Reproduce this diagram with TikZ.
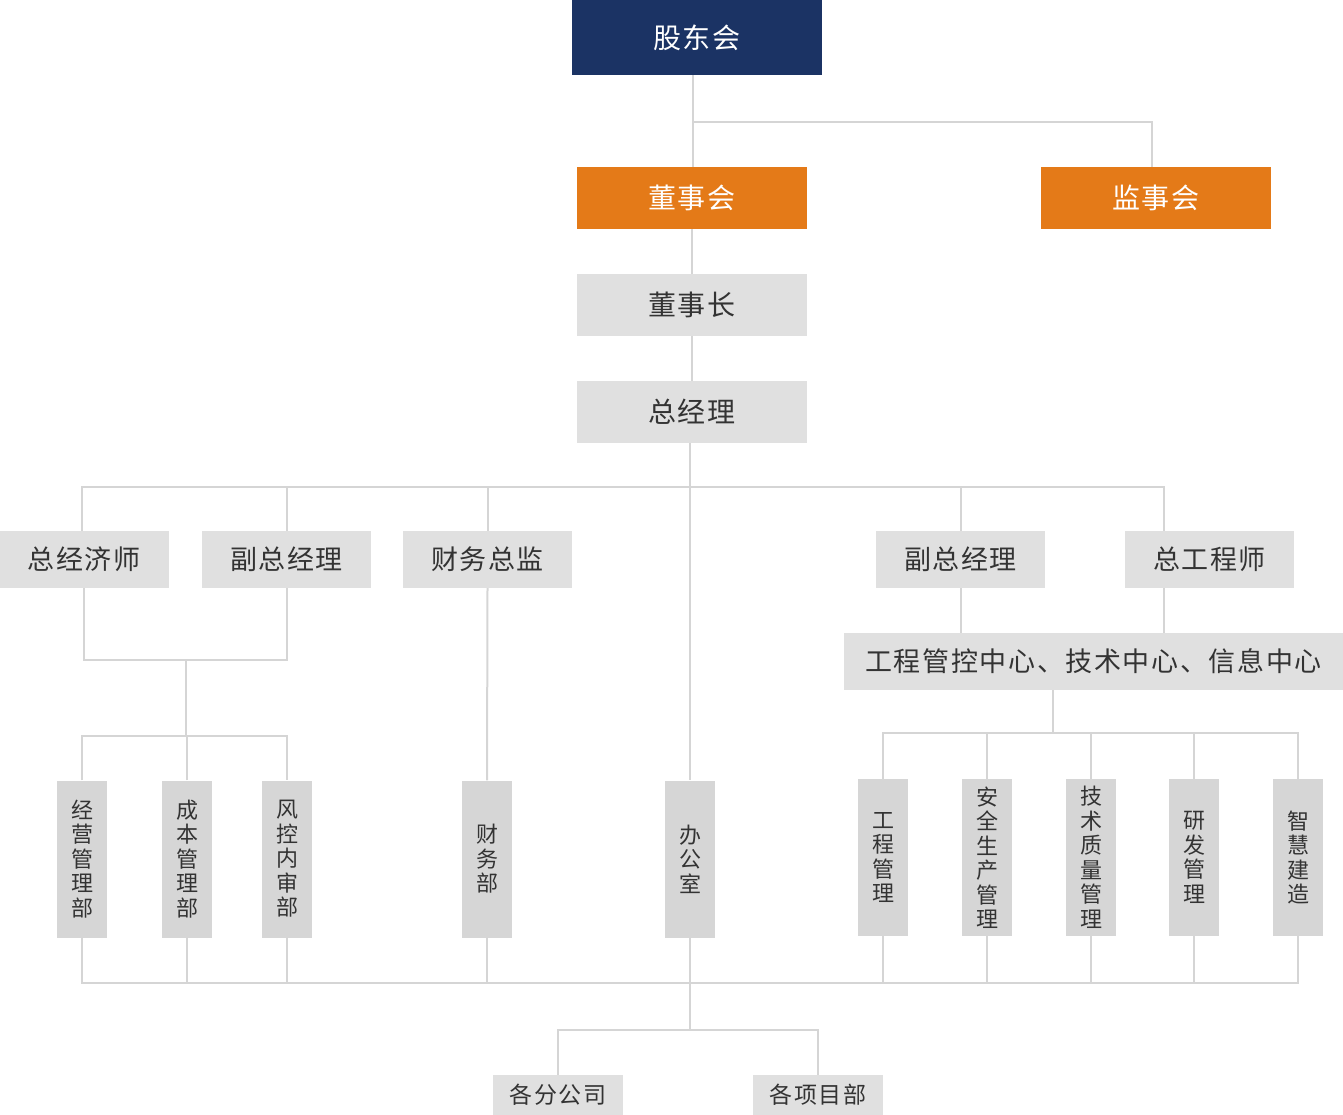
\documentclass[tikz,border=0pt]{standalone}
\usepackage{fontspec}
\newfontfamily\cjk[LetterSpace=6]{Noto Sans CJK SC}
\newfontfamily\cjkv{Noto Sans CJK SC}
\usepackage{xcolor}
\usetikzlibrary{positioning,calc}

\definecolor{navy}{HTML}{1B3364}
\definecolor{amber}{HTML}{E47A18}
\definecolor{boxgray}{HTML}{E0E0E0}
\definecolor{deptgray}{HTML}{D6D6D6}
\definecolor{linegray}{HTML}{D5D5D5}
\definecolor{txtgray}{HTML}{333333}

\begin{document}
\begin{tikzpicture}[
  x=1pt, y=-1pt,
  % Styles
  unit/.style={inner sep=0pt, minimum width=230pt, minimum height=62pt,
               font=\cjk\fontsize{27}{30}\selectfont, align=center},
  top/.style={unit, fill=navy, text=white, minimum width=250pt, minimum height=75pt,
              font=\cjk\fontsize{28}{31}\selectfont},
  board/.style={unit, fill=amber, text=white, font=\cjk\fontsize{28}{31}\selectfont},
  post/.style={unit, fill=boxgray, text=txtgray},
  role/.style={post, minimum width=169pt, minimum height=57pt},
  dept/.style={inner sep=0pt, minimum width=50pt, minimum height=157pt,
               fill=deptgray, text=txtgray, align=center,
               font=\cjkv\fontsize{22}{24.5}\selectfont},
  sub/.style={post, minimum width=130pt, minimum height=40pt,
              font=\cjk\fontsize{23}{26}\selectfont},
  link/.style={draw=linegray, line width=2pt}
]
\useasboundingbox (0,0) rectangle (1343,1115);

% --- 1. Top level ---
\node[top] (gdh) at (697,37.5) {股东会};
\node[board] (dsh) at (692,198) {董事会};
\node[board] (jsh) at (1156,198) {监事会};
\node[post, font=\cjk\fontsize{28}{31}\selectfont] (dsz) at (692,305) {董事长};
\node[post, font=\cjk\fontsize{28}{31}\selectfont] (zjl) at (692,412) {总经理};

% --- 2. Second row ---
\node[role] (zjjs) at (84,559.5) {总经济师};
\node[role] (fzjl1) at (286.5,559.5) {副总经理};
\node[role] (cwzj) at (487.5,559.5) {财务总监};
\node[role] (fzjl2) at (960.5,559.5) {副总经理};
\node[role] (zgcs) at (1209.5,559.5) {总工程师};
\node[post, minimum width=499pt, minimum height=57pt] (zx) at (1093.5,661.5)
  {工程管控中心、技术中心、信息中心};

% --- 3. Departments ---
\node[dept] (jygl) at (82,859) {经\\营\\管\\理\\部};
\node[dept] (cbgl) at (187,859) {成\\本\\管\\理\\部};
\node[dept] (fknsh) at (287,859) {风\\控\\内\\审\\部};
\node[dept] (cwb) at (487,859) {财\\务\\部};
\node[dept] (bgs) at (690,859) {办\\公\\室};
\node[dept] (gcgl) at (883,857.5) {工\\程\\管\\理};
\node[dept] (aqsc) at (987,857.5) {安\\全\\生\\产\\管\\理};
\node[dept] (jszl) at (1091,857.5) {技\\术\\质\\量\\管\\理};
\node[dept] (yfgl) at (1194,857.5) {研\\发\\管\\理};
\node[dept] (zhjz) at (1298,857.5) {智\\慧\\建\\造};

% --- 4. Branches ---
\node[sub] (fgs) at (558,1095) {各分公司};
\node[sub] (xmb) at (818,1095) {各项目部};

% Junction points
\coordinate (topJ) at (693,122);
\coordinate (busT) at (690,487);
\coordinate (leftT) at (186,660);
\coordinate (leftB) at (186,736);
\coordinate (rightB) at (1053,733);
\coordinate (botB) at (690,983);
\coordinate (subB) at (690,1030);

% --- 5. Connectors ---
\draw[link] (gdh.south -| topJ) -- (dsh.north -| topJ);
\draw[link] (topJ) -| ([xshift=-4pt]jsh.north);
\draw[link] (dsh) -- (dsz);
\draw[link] (dsz) -- (zjl);
\draw[link] (zjl.south -| busT) -- (bgs.north);

% Bus under 总经理
\draw[link] ([xshift=-2pt]zjjs.north) |- (busT) -| ([xshift=-45.5pt]zgcs.north);
\foreach \n in {fzjl1, cwzj, fzjl2}
  \draw[link] (\n.north) -- (\n.north |- busT);

% Left group
\draw[link] (zjjs.south) |- (leftT) -| (fzjl1.south);
\draw[link] (leftT) -- (leftB);
\draw[link] (jygl.north) |- (leftB) -| (fknsh.north);
\draw[link] (cbgl.north) -- (cbgl.north |- leftB);
\draw[link] (cwzj.south) -- (cwb.north);

% Right group
\draw[link] (fzjl2.south) -- (fzjl2.south |- zx.north);
\draw[link] ([xshift=-46pt]zgcs.south) -- ([xshift=-46pt]zgcs.south |- zx.north);
\draw[link] (zx.south -| rightB) -- (rightB);
\draw[link] (gcgl.north) |- (rightB) -| (zhjz.north);
\foreach \n in {aqsc, jszl, yfgl}
  \draw[link] (\n.north) -- (\n.north |- rightB);

% Bottom bus
\draw[link] (jygl.south) |- (botB) -| (zhjz.south);
\foreach \n in {cbgl, fknsh, cwb, bgs, gcgl, aqsc, jszl, yfgl}
  \draw[link] (\n.south) -- (\n.south |- botB);
\draw[link] (botB) -- (subB);
\draw[link] (fgs.north) |- (subB) -| (xmb.north);

\end{tikzpicture}
\end{document}
